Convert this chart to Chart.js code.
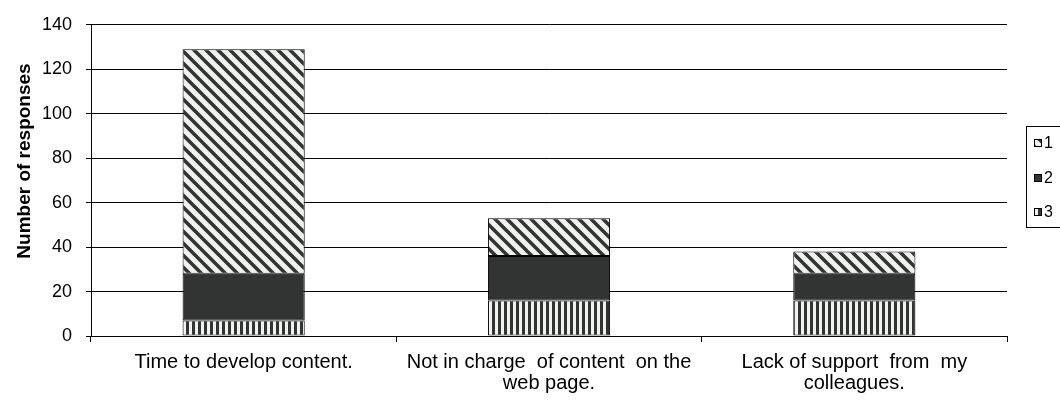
<!DOCTYPE html>
<html lang="en">
<head>
    <meta charset="UTF-8">
    <title>Number of responses</title>
    <style>
        html, body {
            margin: 0;
            padding: 0;
            background: #fff;
        }
        .container {
            width: 1060px;
            height: 402px;
        }
    </style>
</head>
<body>
    <div class="container">
        <canvas id="myChart" width="1060" height="402"></canvas>
    </div>
    <script src="https://cdn.jsdelivr.net/npm/chart.js@4.4.1/dist/chart.umd.min.js"></script>
    <script>
        const categories = [
            ['Time to develop content.'],
            ['Not in charge  of content  on the', 'web page.'],
            ['Lack of support  from  my', 'colleagues.']
        ];
        const series1 = [101, 17, 10];
        const series2 = [21, 20, 12];
        const series3 = [7, 16, 16];
        const seriesNames = ['1', '2', '3'];
        const yTicks = [0, 20, 40, 60, 80, 100, 120, 140];

        const dark = '#323433';
        const light = '#f0f2f0';
        const font = '"Liberation Sans", Arial, sans-serif';

        function diagPattern() {
            const c = document.createElement('canvas');
            const s = 12;
            c.width = s; c.height = s;
            const g = c.getContext('2d');
            g.fillStyle = light;
            g.fillRect(0, 0, s, s);
            g.strokeStyle = dark;
            g.lineWidth = 3.5;
            for (let k = -1; k <= 1; k++) {
                g.beginPath();
                g.moveTo(k * s - 2, -2);
                g.lineTo(k * s + s + 2, s + 2);
                g.stroke();
            }
            return g.createPattern(c, 'repeat');
        }

        function vertPattern() {
            const c = document.createElement('canvas');
            c.width = 6; c.height = 6;
            const g = c.getContext('2d');
            g.fillStyle = light;
            g.fillRect(0, 0, 6, 6);
            g.fillStyle = dark;
            g.fillRect(0, 0, 3, 6);
            return g.createPattern(c, 'repeat');
        }

        const fills = {
            '1': diagPattern(),
            '2': dark,
            '3': vertPattern()
        };

        // y title drawn by hand so it sits where the original has it
        const yTitle = {
            id: 'yTitle',
            afterDraw(chart) {
                const ctx = chart.ctx;
                ctx.save();
                ctx.translate(25, 161);
                ctx.rotate(-Math.PI / 2);
                ctx.font = 'bold 19px ' + font;
                ctx.fillStyle = '#000';
                ctx.textAlign = 'center';
                ctx.textBaseline = 'middle';
                ctx.fillText('Number of responses', 0, 0);
                ctx.restore();
            }
        };

        // boxed legend on the right, running off the edge like the original
        const boxLegend = {
            id: 'boxLegend',
            afterDraw(chart) {
                const ctx = chart.ctx;
                ctx.save();
                ctx.strokeStyle = '#000';
                ctx.lineWidth = 1;
                ctx.strokeRect(1026.5, 126.5, 60, 101);
                ctx.font = '16px ' + font;
                ctx.textBaseline = 'middle';
                const rows = [143, 178, 212];
                seriesNames.forEach((name, i) => {
                    const y = rows[i];
                    ctx.fillStyle = fills[name];
                    ctx.fillRect(1034, y - 4, 8, 8);
                    ctx.strokeStyle = '#000';
                    ctx.strokeRect(1034.5, y - 3.5, 7, 7);
                    ctx.fillStyle = '#000';
                    ctx.fillText(name, 1044, y + 1);
                });
                ctx.restore();
            }
        };

        const data = {
            labels: categories,
            datasets: [
                { label: '3', data: series3, backgroundColor: fills['3'] },
                { label: '2', data: series2, backgroundColor: fills['2'] },
                { label: '1', data: series1, backgroundColor: fills['1'] }
            ].map(d => Object.assign(d, {
                borderColor: '#000',
                borderWidth: 1,
                borderSkipped: false,
                categoryPercentage: 1,
                barPercentage: 0.4
            }))
        };

        const ctx = document.getElementById('myChart').getContext('2d');
        const myChart = new Chart(ctx, {
            type: 'bar',
            data: data,
            plugins: [yTitle, boxLegend],
            options: {
                responsive: false,
                animation: false,
                layout: {
                    padding: { top: 19, right: 53, bottom: 0, left: 0 }
                },
                plugins: {
                    legend: { display: false },
                    tooltip: { enabled: false }
                },
                scales: {
                    x: {
                        stacked: true,
                        afterFit(axis) { axis.height = 66; },
                        border: { color: '#000', width: 1 },
                        grid: {
                            drawOnChartArea: false,
                            color: '#000',
                            tickLength: 6,
                            offset: true
                        },
                        ticks: {
                            color: '#000',
                            padding: 10,
                            maxRotation: 0,
                            autoSkip: false,
                            font: { family: font, size: 20, lineHeight: 1.05 }
                        }
                    },
                    y: {
                        stacked: true,
                        min: yTicks[0],
                        max: yTicks[yTicks.length - 1],
                        afterFit(axis) { axis.width = 91; },
                        afterBuildTicks(axis) {
                            axis.ticks = yTicks.map(v => ({ value: v }));
                        },
                        border: { color: '#000', width: 1 },
                        grid: {
                            color: '#000',
                            lineWidth: 1,
                            tickLength: 5
                        },
                        ticks: {
                            color: '#000',
                            padding: 14,
                            font: { family: font, size: 18 }
                        }
                    }
                }
            }
        });
    </script>
</body>
</html>
